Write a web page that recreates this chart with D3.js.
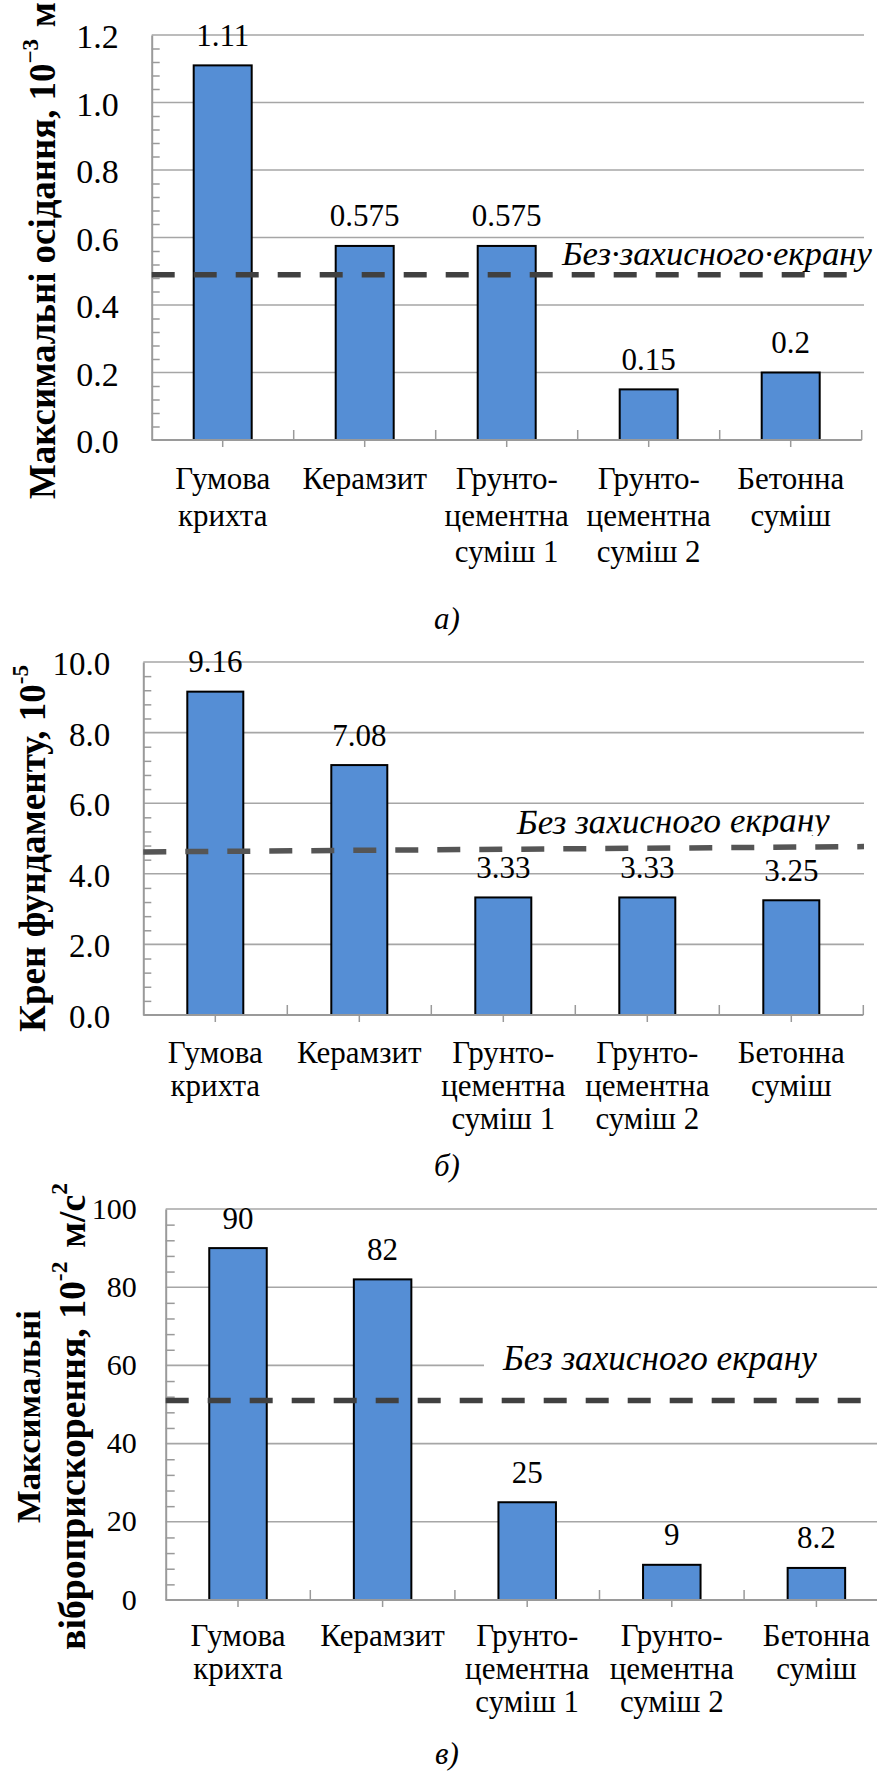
<!DOCTYPE html>
<html>
<head>
<meta charset="utf-8">
<script src="https://cdn.jsdelivr.net/npm/d3@7"></script>
<style>
  html, body { margin: 0; padding: 0; background: #fff; }
  svg { display: block; }
  text { font-family: "Liberation Serif", "LiberationSerif", "Tinos", "Times New Roman", "Times", "DejaVu Serif", "Noto Serif", serif; fill: #000; }
</style>
</head>
<body>
<svg id="fig" width="877" height="1773"></svg>
<script>
// ---- data ----
const categories = [
  ["Гумова", "крихта"],
  ["Керамзит"],
  ["Грунто-", "цементна", "суміш 1"],
  ["Грунто-", "цементна", "суміш 2"],
  ["Бетонна", "суміш"]
];

const settlementValues = [1.11, 0.575, 0.575, 0.15, 0.2];
const settlementValueLabels = ["1.11", "0.575", "0.575", "0.15", "0.2"];
const settlementTicks = [0, 0.2, 0.4, 0.6, 0.8, 1.0, 1.2];
const settlementTickLabels = ["0.0", "0.2", "0.4", "0.6", "0.8", "1.0", "1.2"];
const settlementReference = [0.49, 0.49];

const tiltValues = [9.16, 7.08, 3.33, 3.33, 3.25];
const tiltValueLabels = ["9.16", "7.08", "3.33", "3.33", "3.25"];
const tiltTicks = [0, 2, 4, 6, 8, 10];
const tiltTickLabels = ["0.0", "2.0", "4.0", "6.0", "8.0", "10.0"];
const tiltReference = [4.62, 4.77];

const accelValues = [90, 82, 25, 9, 8.2];
const accelValueLabels = ["90", "82", "25", "9", "8.2"];
const accelTicks = [0, 20, 40, 60, 80, 100];
const accelTickLabels = ["0", "20", "40", "60", "80", "100"];
const accelReference = [51, 51];

const referenceLabelDotted = "Без·захисного·екрану";
const referenceLabel = "Без захисного екрану";
const panelCaptions = ["а)", "б)", "в)"];

// ---- drawing ----
const svg = d3.select("#fig");
const BAR_FILL = "#558ed5";
const GRID = "#a6a6a6";
const AXIS = "#9a9a9a";

// scale the font of a text element so its advance equals the target length
function fitLength(sel, target) {
  const fs = parseFloat(sel.attr("font-size"));
  const len = sel.node().getComputedTextLength();
  sel.attr("font-size", fs * target / len);
}

function panel(o) {
  const g = svg.append("g");
  const x = d3.scaleBand().domain(d3.range(categories.length))
    .range([o.left, o.left + o.band * categories.length]).paddingInner(0).paddingOuter(0);
  const y = d3.scaleLinear().domain([0, o.max]).range([o.y0, o.yTop]);
  const right = o.left + o.band * categories.length;

  // horizontal gridlines
  g.append("g").selectAll("line")
    .data(o.ticks.filter(t => t > 0))
    .join("line")
    .attr("x1", o.left).attr("x2", o.gridRight)
    .attr("y1", d => y(d)).attr("y2", d => y(d))
    .attr("stroke", GRID).attr("stroke-width", 1.6);

  // white backing behind the reference label
  if (o.refBox) {
    g.append("rect").attr("x", o.refBox[0]).attr("y", o.refBox[1])
      .attr("width", o.refBox[2]).attr("height", o.refBox[3]).attr("fill", "#fff");
  }

  // minor ticks on the value axis
  const major = o.ticks[1];
  const minor = d3.range(0, o.max + 1e-9, o.minorStep).filter(v => {
    const r = (v / major) % 1;
    return r > 1e-6 && r < 1 - 1e-6;
  });
  const minorAxis = g.append("g").attr("transform", `translate(${o.left},0)`)
    .call(d3.axisRight(y).tickValues(minor).tickSize(o.minorLen).tickFormat(""));
  minorAxis.select(".domain").remove();
  minorAxis.selectAll("line").attr("stroke", AXIS).attr("stroke-width", 1.5);

  // value axis with labels
  const yAxis = g.append("g").attr("transform", `translate(${o.left},0)`)
    .call(d3.axisLeft(y).tickValues(o.ticks).tickSize(0).tickPadding(o.tickPad)
      .tickFormat((d, i) => o.tickLabels[i]));
  yAxis.select(".domain").attr("stroke", AXIS).attr("stroke-width", 2);
  yAxis.selectAll("text")
    .attr("font-size", o.tickFont).attr("fill", "#000")
    .attr("dy", o.tickDy);

  // bars
  g.append("g").selectAll("rect")
    .data(o.values)
    .join("rect")
    .attr("x", (d, i) => x(i) + (o.band - o.barW) / 2)
    .attr("width", o.barW)
    .attr("y", d => y(d))
    .attr("height", d => o.y0 - y(d))
    .attr("fill", BAR_FILL).attr("stroke", "#000").attr("stroke-width", 2);

  // category axis: line, ticks under category centres, ticks above band edges
  const xAxis = g.append("g").attr("transform", `translate(0,${o.y0})`)
    .call(d3.axisBottom(x).tickSize(7).tickFormat(""));
  xAxis.select(".domain").attr("stroke", AXIS).attr("stroke-width", 2)
    .attr("d", `M${o.left},0H${right}`);
  xAxis.selectAll("line").attr("stroke", AXIS).attr("stroke-width", 1.5);
  g.append("g").selectAll("line")
    .data(d3.range(1, categories.length + 1))
    .join("line")
    .attr("x1", i => o.left + i * o.band).attr("x2", i => o.left + i * o.band)
    .attr("y1", o.y0 - 10).attr("y2", o.y0)
    .attr("stroke", AXIS).attr("stroke-width", 1.5);

  // category labels
  g.append("g").selectAll("text")
    .data(categories)
    .join("text")
    .attr("text-anchor", "middle")
    .attr("font-size", o.catFont)
    .each(function (lines, i) {
      const t = d3.select(this);
      lines.forEach((ln, k) => {
        t.append("tspan").attr("x", x(i) + o.band / 2)
          .attr("y", o.catBaseline + k * o.catLine).text(ln);
      });
    });

  // reference ("no screen") dashed line
  const refLine = d3.line().x(d => d[0]).y(d => y(d[1]));
  g.append("path")
    .datum([[o.left, o.reference[0]], [o.refRight, o.reference[1]]])
    .attr("d", refLine)
    .attr("fill", "none").attr("stroke", o.dashColor)
    .attr("stroke-width", 5.5).attr("stroke-dasharray", "23 19");

  // reference label
  let labelParent = g;
  if (o.refClip) {
    const id = "clip" + o.id;
    svg.append("clipPath").attr("id", id).append("rect")
      .attr("x", o.refClip[0]).attr("y", o.refClip[1])
      .attr("width", o.refClip[2]).attr("height", o.refClip[3]);
    labelParent = g.append("g").attr("clip-path", `url(#${id})`);
  }
  const refText = labelParent.append("text")
    .attr("x", o.refX).attr("y", o.refBaseline)
    .attr("font-style", "italic").attr("font-size", 30)
    .attr("fill", "#1e1e1e")
    .attr("transform", o.refRotate ? `rotate(${o.refRotate},${o.refX},${o.refBaseline})` : null)
    .text(o.refText);
  fitLength(refText, o.refWidth);

  // value labels above bars
  g.append("g").selectAll("text")
    .data(o.values)
    .join("text")
    .attr("text-anchor", "middle")
    .attr("font-size", o.valFont)
    .attr("x", (d, i) => x(i) + o.band / 2)
    .attr("y", d => y(d) - 19.5)
    .text((d, i) => o.valueLabels[i]);

  // rotated axis title lines
  o.title.forEach(tl => {
    const t = g.append("text")
      .attr("text-anchor", "middle")
      .attr("font-weight", "bold")
      .attr("font-size", 32)
      .attr("transform", `translate(${tl.x},${tl.cy}) rotate(-90)`);
    tl.parts.forEach(p => {
      const s = t.append("tspan").text(p.t);
      if (p.sup) s.attr("font-size", "0.62em").attr("dy", "-0.75em");
      if (p.down) s.attr("dy", p.down);
      if (p.dx) s.attr("dx", p.dx);
    });
    fitLength(t, tl.len);
  });

  // panel caption
  g.append("text")
    .attr("x", 447).attr("y", o.captionY)
    .attr("text-anchor", "middle")
    .attr("font-style", "italic").attr("font-size", 31)
    .text(o.caption);
}

panel({
  id: "a", values: settlementValues, valueLabels: settlementValueLabels,
  ticks: settlementTicks, tickLabels: settlementTickLabels, max: 1.2, minorStep: 0.04,
  reference: settlementReference,
  left: 151.7, band: 142, barW: 58, y0: 440, yTop: 35, gridRight: 864, refRight: 864,
  minorLen: 8, tickPad: 33, tickFont: 34, tickDy: "0.37em",
  catFont: 31, catBaseline: 489, catLine: 36.5, valFont: 31,
  dashColor: "#404040",
  refText: referenceLabelDotted, refX: 562, refBaseline: 265, refWidth: 310,
  title: [{
    x: 55, cy: 250.5, len: 485,
    parts: [{ t: "Максимальні осідання, 10" }, { t: "−3", sup: true }, { t: "м", down: "0.46em", dx: 12 }]
  }],
  caption: panelCaptions[0], captionY: 629
});

panel({
  id: "b", values: tiltValues, valueLabels: tiltValueLabels,
  ticks: tiltTicks, tickLabels: tiltTickLabels, max: 10, minorStep: 0.4,
  reference: tiltReference,
  left: 143.3, band: 144, barW: 56, y0: 1015, yTop: 662, gridRight: 864, refRight: 864,
  minorLen: 8, tickPad: 33, tickFont: 33, tickDy: "0.38em",
  catFont: 31, catBaseline: 1063, catLine: 33, valFont: 31,
  dashColor: "#555555",
  refText: referenceLabel, refX: 517, refBaseline: 834, refWidth: 313, refRotate: -0.5,
  refClip: [500, 790, 377, 46],
  title: [{
    x: 45, cy: 848.5, len: 367,
    parts: [{ t: "Крен фундаменту, 10" }, { t: "-5", sup: true }]
  }],
  caption: panelCaptions[1], captionY: 1176
});

panel({
  id: "c", values: accelValues, valueLabels: accelValueLabels,
  ticks: accelTicks, tickLabels: accelTickLabels, max: 100, minorStep: 4,
  reference: accelReference,
  left: 165.7, band: 144.6, barW: 57.5, y0: 1600, yTop: 1209, gridRight: 900, refRight: 877,
  minorLen: 9, tickPad: 29, tickFont: 30, tickDy: "0.3em",
  catFont: 31, catBaseline: 1646, catLine: 33, valFont: 31,
  dashColor: "#404040",
  refText: referenceLabel, refX: 503, refBaseline: 1370, refWidth: 314,
  refBox: [484, 1340, 400, 42],
  title: [
    { x: 40, cy: 1416.5, len: 213, parts: [{ t: "Максимальні" }] },
    {
      x: 85, cy: 1416.5, len: 453,
      parts: [{ t: "віброприскорення, 10" }, { t: "-2", sup: true },
              { t: "м/с", down: "0.46em", dx: 14 }, { t: "2", sup: true }]
    }
  ],
  caption: panelCaptions[2], captionY: 1764
});
</script>
</body>
</html>
